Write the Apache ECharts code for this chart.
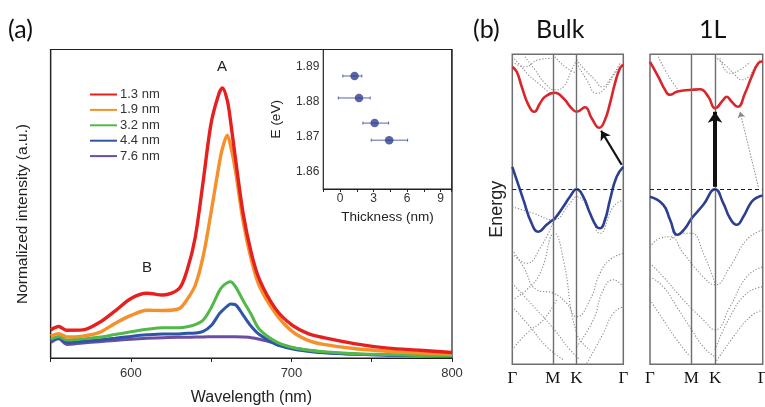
<!DOCTYPE html>
<html>
<head>
<meta charset="utf-8">
<script src="https://cdn.jsdelivr.net/npm/echarts@6/dist/echarts.min.js"></script>
<style>
  html, body { margin: 0; padding: 0; background: #fff; }
  #chart { width: 765px; height: 407px; }
</style>
</head>
<body>
<div id="chart"></div>
<script>
// ---- (a) photoluminescence spectra ----
const wavelengths = [550,555,560,570,580,590,600,610,620,630,635,640,645,650,655,657,660,662,665,670,675,680,690,700,710,720,740,760,780,800];
const seriesNames = ['1.3 nm', '1.9 nm', '3.2 nm', '4.4 nm', '7.6 nm'];
const pl13 = [9.1,10.2,9.0,9.1,11.4,15.2,19.3,21.0,20.4,22.5,28.5,39.0,57.3,76.3,86.0,87.5,83.5,77.0,65.0,46.5,34.0,25.5,16.0,10.8,8.0,6.6,4.6,3.2,2.5,1.8];
const pl19 = [7.1,7.9,6.8,7.1,8.2,11.2,13.8,15.5,15.4,16.0,19.0,23.5,33.0,47.5,63.0,68.0,72.2,69.0,61.0,44.0,31.8,23.3,14.5,8.8,5.8,4.4,3.0,2.2,1.6,1.2];
const pl32 = [6.1,7.0,5.8,6.2,6.7,7.6,8.5,9.3,9.8,9.8,10.1,10.8,12.3,16.3,21.7,23.2,24.4,24.7,23.2,18.5,14.0,9.3,5.4,3.5,2.6,2.0,1.4,1.1,0.8,0.7];
const pl44 = [5.6,6.5,5.0,5.4,5.8,6.4,7.0,7.5,7.8,7.8,8.0,8.1,8.6,10.5,14.3,15.4,16.8,17.5,17.3,13.8,10.2,7.6,4.5,3.0,2.2,1.7,1.2,0.9,0.7,0.6];
const pl76 = [5.0,6.2,4.4,4.9,5.3,5.7,6.1,6.4,6.6,6.7,6.7,6.8,6.8,6.9,6.9,6.9,6.9,6.9,6.9,6.8,6.6,6.1,4.8,3.4,2.5,1.9,1.3,1.0,0.8,0.6];
const plColors = ['#e5201f', '#f5902a', '#52b848', '#2f55a6', '#6a4ea3'];

// inset: A-exciton energy vs thickness
const insetThickness = [1.3, 1.7, 3.1, 4.4];
const insetEnergy = [1.8874, 1.8811, 1.8739, 1.8690];
const insetThickLow = [0.25, -0.15, 2.05, 2.8];
const insetThickHigh = [1.95, 2.7, 4.35, 6.05];

// ---- (b) band structures (k along Γ-M-K-Γ, energy relative to VBM) ----
const kTicks = [0, 0.366, 0.577, 1];
const kLabels = ['Γ', 'M', 'K', 'Γ'];

const bulkCondK = [0,0.04,0.085,0.145,0.198,0.25,0.295,0.385,0.46,0.535,0.58,0.655,0.715,0.784,0.835,0.88,0.925,0.97,1];
const bulkCondE = [2.45,2.35,2.05,1.69,1.55,1.72,1.85,1.93,1.82,1.62,1.55,1.64,1.42,1.23,1.39,1.72,2.12,2.42,2.49];
const bulkValK = [0,0.1,0.174,0.234,0.309,0.354,0.384,0.459,0.519,0.58,0.64,0.7,0.76,0.79,0.835,0.88,0.94,1];
const bulkValE = [0.45,-0.21,-0.68,-0.85,-0.71,-0.63,-0.58,-0.35,-0.15,0.0,-0.15,-0.48,-0.75,-0.78,-0.61,-0.21,0.25,0.45];
const bulkOtherBands = [
  [[0,2.65],[0.069,2.49],[0.145,2.29],[0.234,2.12],[0.324,1.95]],
  [[0.114,2.65],[0.204,2.39],[0.295,2.12],[0.385,1.99],[0.46,2.05],[0.535,2.39],[0.58,2.59]],
  [[0.58,2.59],[0.655,2.39],[0.745,2.19],[0.805,2.05],[0.895,2.25],[0.97,2.52]],
  [[0.58,2.52],[0.67,2.19],[0.76,1.92],[0.835,2.02],[0.925,2.32],[1,2.52]],
  [[0,2.55],[0.114,2.45],[0.234,2.59],[0.354,2.62]],
  [[0.385,2.65],[0.475,2.45],[0.58,2.32]],
  [[0,-0.35],[0.19,-0.48],[0.37,-0.61],[0.52,-0.28],[0.58,-0.15],[0.7,-0.48],[0.79,-0.88],[0.91,-0.35],[1,-0.21]],
  [[0,-1.28],[0.13,-1.48],[0.25,-1.18],[0.38,-0.61]],
  [[0,-1.21],[0.1,-1.55],[0.22,-2.01],[0.37,-2.08],[0.49,-2.28],[0.58,-2.55],[0.7,-2.21],[0.79,-1.68],[0.88,-1.41],[1,-1.28]],
  [[0,-2.21],[0.13,-2.01],[0.25,-1.68],[0.38,-0.88],[0.46,-1.41],[0.58,-2.88],[0.7,-3.21]],
  [[0,-2.35],[0.16,-2.75],[0.31,-3.15],[0.46,-3.41]],
  [[0,-1.88],[0.22,-2.41],[0.38,-2.81],[0.52,-3.21],[0.61,-3.41]],
  [[0.58,-3.15],[0.73,-2.61],[0.82,-2.01],[0.91,-1.81],[1,-1.95]],
  [[0.67,-3.48],[0.82,-2.88],[0.91,-2.48],[1,-2.35]],
  [[0,-3.21],[0.13,-2.88],[0.28,-2.61],[0.4,-2.21]]
];
const bulkArrow = [[0.985, 0.49], [0.8, 1.17]];

const monoCondK = [0,0.074,0.133,0.177,0.237,0.281,0.37,0.444,0.518,0.577,0.65,0.68,0.725,0.778,0.843,0.902,0.96,1];
const monoCondE = [2.55,2.25,1.99,1.89,1.95,1.97,1.99,2.0,1.85,1.62,1.79,1.85,1.75,1.65,1.92,2.25,2.52,2.56];
const monoValK = [0,0.118,0.178,0.243,0.311,0.37,0.473,0.577,0.651,0.71,0.769,0.828,0.902,0.962,1];
const monoValE = [-0.15,-0.31,-0.61,-0.91,-0.78,-0.58,-0.31,0.0,-0.28,-0.58,-0.71,-0.55,-0.25,-0.15,-0.13];
const monoOtherBands = [
  [[0.074,2.65],[0.133,2.39],[0.207,2.12],[0.251,1.99]],
  [[0.577,2.65],[0.665,2.49],[0.754,2.29],[0.814,2.19],[0.873,2.25],[0.932,2.45],[0.976,2.59]],
  [[0.621,2.62],[0.71,2.32],[0.799,2.39],[0.888,2.55]],
  [[0,-1.15],[0.089,-0.98],[0.178,-0.95],[0.296,-1.28],[0.473,-1.75],[0.577,-1.91],[0.71,-1.55],[0.858,-1.01],[1,-0.81]],
  [[0,-1.48],[0.118,-1.75],[0.296,-2.21],[0.473,-2.61],[0.577,-2.81],[0.71,-2.35],[0.858,-1.75],[1,-1.55]],
  [[0,-1.75],[0.118,-1.95],[0.237,-2.35],[0.37,-2.81],[0.473,-3.15],[0.577,-3.35]],
  [[0.178,-1.01],[0.296,-0.88],[0.37,-0.88],[0.473,-1.28],[0.577,-1.88]],
  [[0.577,-3.21],[0.71,-2.55],[0.858,-2.08],[1,-1.95]],
  [[0,-2.21],[0.118,-2.61],[0.237,-3.01],[0.355,-3.35]],
  [[0.577,-3.48],[0.74,-2.95],[0.888,-2.55],[1,-2.41]]
];
const monoDirectArrow = [[0.577, 0.05], [0.577, 1.55]];
const monoIndirectArrow = [[0.961, 0.05], [0.799, 1.55]];

// ---------------------------------------------------------------
const SANS = 'Liberation Sans, Arial, sans-serif';
const zip = (a, b) => a.map((v, i) => [v, b[i]]);

const chart = echarts.init(document.getElementById('chart'), null, { renderer: 'canvas' });

const plSeries = [pl13, pl19, pl32, pl44, pl76].map((vals, i) => ({
  name: seriesNames[i],
  type: 'line',
  xAxisIndex: 0, yAxisIndex: 0,
  data: zip(wavelengths, vals),
  showSymbol: false,
  smooth: 0.3,
  lineStyle: { color: plColors[i], width: i < 2 ? 3.4 : 3 },
  itemStyle: { color: plColors[i] },
  z: 10 - i
}));

function bandPanelSeries(gi, condK, condE, valK, valE, others) {
  const list = [];
  others.forEach((pts, j) => {
    const s = {
      type: 'line', xAxisIndex: gi, yAxisIndex: gi,
      data: pts, showSymbol: false, smooth: true, silent: true,
      lineStyle: { color: '#8a8a8a', width: 1.1, type: [1.2, 1.8] }, z: 2
    };
    if (j === 0) {
      s.markLine = {
        silent: true, symbol: 'none', animation: false, label: { show: false },
        data: [
          { xAxis: kTicks[1], lineStyle: { color: '#6e6e6e', width: 1.4, type: 'solid' } },
          { xAxis: kTicks[2], lineStyle: { color: '#6e6e6e', width: 1.4, type: 'solid' } },
          { yAxis: 0, lineStyle: { color: '#222', width: 1, type: [4, 3] } }
        ]
      };
    }
    list.push(s);
  });
  list.push({
    type: 'line', xAxisIndex: gi, yAxisIndex: gi, data: zip(condK, condE),
    showSymbol: false, smooth: 0.5, silent: true,
    lineStyle: { color: '#d9262c', width: 2.6 }, z: 4
  });
  list.push({
    type: 'line', xAxisIndex: gi, yAxisIndex: gi, data: zip(valK, valE),
    showSymbol: false, smooth: 0.5, silent: true,
    lineStyle: { color: '#2d3f91', width: 2.6 }, z: 4
  });
  return list;
}

function arrowSeries(gi, arrow, style, size) {
  return {
    type: 'line', xAxisIndex: gi, yAxisIndex: gi, data: [], silent: true, z: 6,
    markLine: {
      silent: true, animation: false, symbol: ['none', 'arrow'], symbolSize: size,
      label: { show: false },
      lineStyle: style,
      data: [[{ coord: arrow[0] }, { coord: arrow[1] }]]
    }
  };
}

const bandXAxis = (gi) => ({
  gridIndex: gi, type: 'value', min: 0, max: 1,
  axisLine: { show: false }, axisTick: { show: false }, splitLine: { show: false },
  axisLabel: {
    customValues: kTicks, margin: 6,
    formatter: (v) => kLabels[kTicks.indexOf(v)] ?? '',
    fontFamily: 'Liberation Serif, Times New Roman, serif', fontSize: 17, color: '#111'
  }
});
const bandYAxis = (gi, named) => ({
  gridIndex: gi, type: 'value', min: -3.5, max: 2.7,
  axisLine: { show: false }, axisTick: { show: false }, splitLine: { show: false },
  axisLabel: { show: false },
  name: named ? 'Energy' : '', nameLocation: 'middle', nameGap: 6, nameRotate: 90,
  nameTextStyle: { fontFamily: SANS, fontSize: 18, color: '#222', verticalAlign: 'bottom' }
});

const option = {
  animation: false,
  backgroundColor: '#fff',
  textStyle: { fontFamily: SANS },
  grid: [
    { left: 50.7, top: 49.5, width: 401.3, height: 308.5, show: true, borderColor: '#222', borderWidth: 1.2, backgroundColor: 'transparent', outerBoundsMode: 'none', containLabel: false },
    { left: 323.3, top: 49.5, width: 128.4, height: 139.5, show: true, borderColor: '#222', borderWidth: 1.2, backgroundColor: '#fff', z: 20, outerBoundsMode: 'none', containLabel: false },
    { left: 512.3, top: 54.3, width: 111, height: 310, show: true, borderColor: '#6e6e6e', borderWidth: 1.5, outerBoundsMode: 'none', containLabel: false },
    { left: 650, top: 54.3, width: 112.7, height: 310, show: true, borderColor: '#6e6e6e', borderWidth: 1.5, outerBoundsMode: 'none', containLabel: false }
  ],
  legend: {
    data: seriesNames, orient: 'vertical', left: 85, top: 83,
    itemWidth: 27, itemHeight: 10, itemGap: 2.4,
    icon: 'path://M0,4L27,4L27,6L0,6Z',
    textStyle: { fontFamily: SANS, fontSize: 13, color: '#333', padding: [0, 0, 0, -2] },
    selectedMode: false
  },
  xAxis: [
    {
      gridIndex: 0, type: 'value', min: 550, max: 800, interval: 50,
      name: 'Wavelength (nm)', nameLocation: 'middle', nameGap: 32,
      nameTextStyle: { fontFamily: SANS, fontSize: 16, color: '#222' },
      axisLine: { lineStyle: { color: '#222', width: 1.2 } },
      axisTick: { show: true, length: 4, lineStyle: { color: '#222' } },
      splitLine: { show: false },
      axisLabel: {
        margin: 9, fontSize: 13, color: '#333', fontFamily: SANS,
        formatter: (v) => (v % 100 === 0 ? String(v) : '')
      }
    },
    {
      gridIndex: 1, type: 'value', min: -1.5, max: 10, interval: 1.5,
      name: 'Thickness (nm)', nameLocation: 'middle', nameGap: 21,
      nameTextStyle: { fontFamily: SANS, fontSize: 13.5, color: '#222' },
      axisLine: { lineStyle: { color: '#222', width: 1.2 } },
      axisTick: { show: true, length: 3, lineStyle: { color: '#222' } },
      splitLine: { show: false },
      axisLabel: {
        margin: 4, fontSize: 12, color: '#333', fontFamily: SANS,
        formatter: (v) => (Math.abs(v % 3) < 1e-9 && v >= 0 && v <= 9 ? String(v) : '')
      }
    },
    bandXAxis(2),
    bandXAxis(3)
  ],
  yAxis: [
    {
      gridIndex: 0, type: 'value', min: 0, max: 100,
      axisLine: { lineStyle: { color: '#222', width: 1.2 } },
      axisTick: { show: false }, axisLabel: { show: false }, splitLine: { show: false }
    },
    {
      gridIndex: 1, type: 'value', min: 1.855, max: 1.895, interval: 0.005,
      name: 'E (eV)', nameLocation: 'middle', nameGap: 40, nameRotate: 90,
      nameTextStyle: { fontFamily: SANS, fontSize: 13.5, color: '#222' },
      axisLine: { lineStyle: { color: '#222', width: 1.2 } },
      axisTick: { show: true, length: 3, lineStyle: { color: '#222' } },
      splitLine: { show: false },
      axisLabel: {
        margin: 4, fontSize: 12, color: '#333', fontFamily: SANS,
        formatter: (v) => {
          const m = Math.round(v * 1000);
          return (m % 10 === 0 && m > 1855 && m < 1895) ? (m / 1000).toFixed(2) : '';
        }
      }
    },
    bandYAxis(2, true),
    bandYAxis(3, false)
  ],
  graphic: [
    { type: 'text', left: 8, top: 17, style: { text: '(a)', fontFamily: 'Lato, Open Sans, sans-serif', fontSize: 25, fill: '#111' } },
    { type: 'text', left: 473, top: 17, style: { text: '(b)', fontFamily: 'Lato, Open Sans, sans-serif', fontSize: 25, fill: '#111' } },
    { type: 'text', left: 536, top: 17, style: { text: 'Bulk', fontFamily: 'Lato, Open Sans, sans-serif', fontSize: 25, fill: '#111' } },
    { type: 'text', left: 699, top: 17, style: { text: '1L', fontFamily: 'Lato, Open Sans, sans-serif', fontSize: 25, fill: '#111' } },
    { type: 'text', x: 222, y: 67, style: { text: 'A', fontFamily: SANS, fontSize: 15, fill: '#222', align: 'center', verticalAlign: 'middle' } },
    { type: 'text', x: 147, y: 268, style: { text: 'B', fontFamily: SANS, fontSize: 15, fill: '#222', align: 'center', verticalAlign: 'middle' } },
    { type: 'text', x: 23, y: 214, rotation: Math.PI / 2, style: { text: 'Normalized intensity (a.u.)', fontFamily: SANS, fontSize: 15.5, fill: '#222', align: 'center', verticalAlign: 'middle' } }
  ],
  series: [
    ...plSeries,
    {
      type: 'custom', xAxisIndex: 1, yAxisIndex: 1, silent: true, z: 21,
      data: insetThickness.map((t, i) => [t, insetEnergy[i], insetThickLow[i], insetThickHigh[i]]),
      encode: { x: 0, y: 1 },
      renderItem: (params, api) => {
        const y = api.value(1);
        const a = api.coord([api.value(2), y]);
        const b = api.coord([api.value(3), y]);
        const st = { stroke: '#5565ad', lineWidth: 1 };
        return {
          type: 'group',
          children: [
            { type: 'line', shape: { x1: a[0], y1: a[1], x2: b[0], y2: b[1] }, style: st },
            { type: 'line', shape: { x1: a[0], y1: a[1] - 1.5, x2: a[0], y2: a[1] + 1.5 }, style: st },
            { type: 'line', shape: { x1: b[0], y1: b[1] - 1.5, x2: b[0], y2: b[1] + 1.5 }, style: st }
          ]
        };
      }
    },
    {
      type: 'scatter', xAxisIndex: 1, yAxisIndex: 1, silent: true, z: 22,
      data: zip(insetThickness, insetEnergy),
      symbolSize: 8.5, itemStyle: { color: '#2f3e8e' }
    },
    ...bandPanelSeries(2, bulkCondK, bulkCondE, bulkValK, bulkValE, bulkOtherBands),
    ...bandPanelSeries(3, monoCondK, monoCondE, monoValK, monoValE, monoOtherBands),
    arrowSeries(2, bulkArrow, { color: '#111', width: 2.2, type: 'solid' }, 9),
    arrowSeries(3, monoDirectArrow, { color: '#111', width: 4, type: 'solid' }, 11),
    arrowSeries(3, monoIndirectArrow, { color: '#888', width: 1, type: [1.5, 1.5] }, 6)
  ]
};

chart.setOption(option);
</script>
</body>
</html>
